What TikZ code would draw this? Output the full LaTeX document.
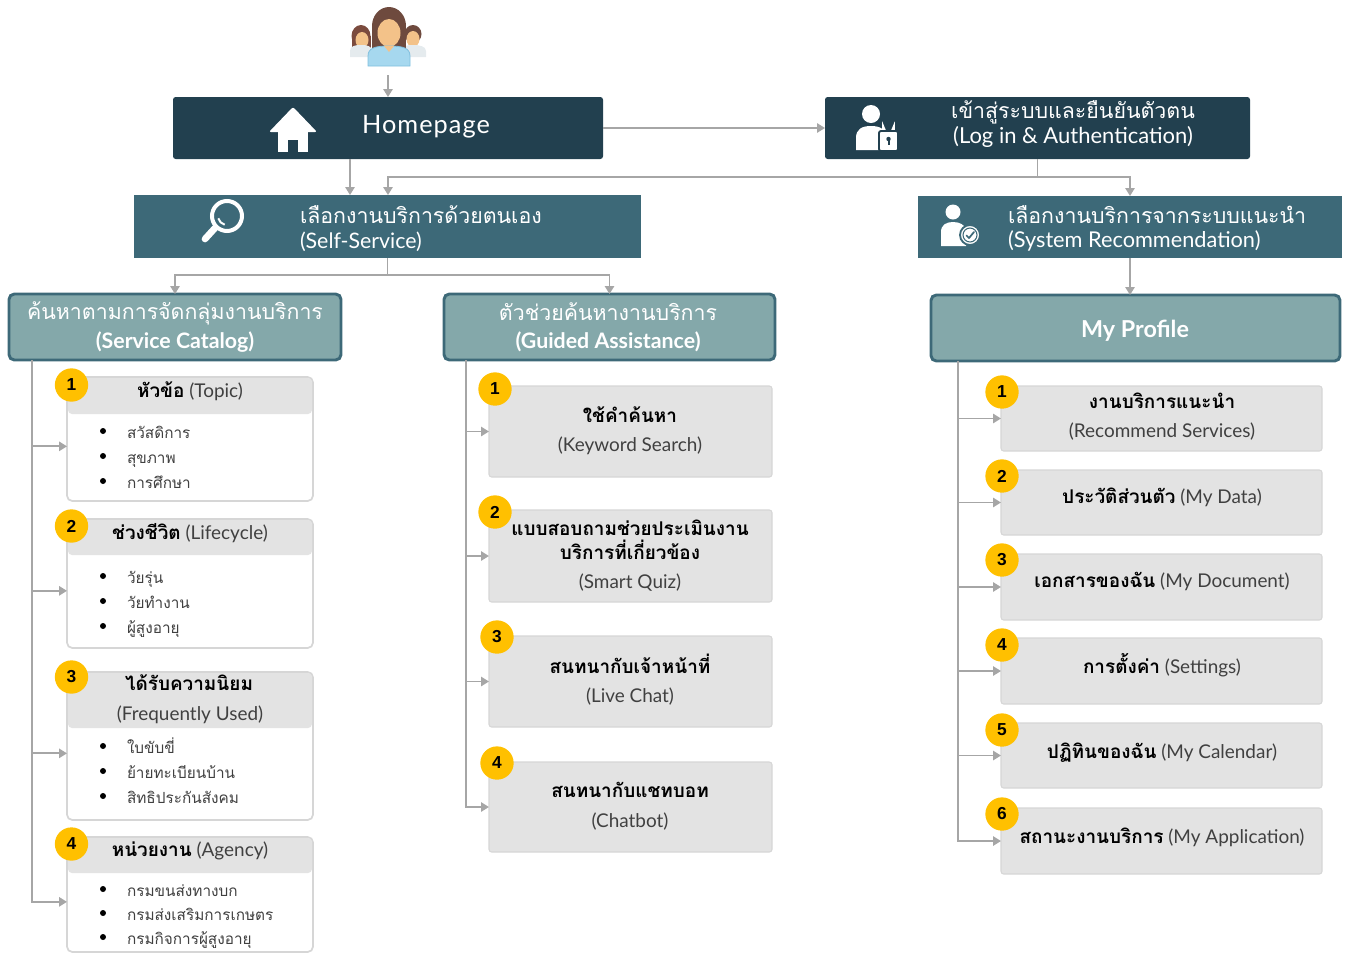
\documentclass[tikz,border=0pt]{standalone}
\usepackage{fontspec}
\setmainfont{Lato}
\newfontfamily\thf[Script=Thai]{Loma}
\newfontfamily\numf{Liberation Sans}
\usetikzlibrary{arrows.meta,fit,calc}

\definecolor{navy}{HTML}{22404F}
\definecolor{tealdk}{HTML}{3D6978}
\definecolor{lteal}{HTML}{84A8AA}
\definecolor{cardgray}{HTML}{E3E3E3}
\definecolor{edgegray}{HTML}{D6D6D6}
\definecolor{linkgray}{HTML}{A6A6A6}
\definecolor{badgeyellow}{HTML}{FFC000}
\definecolor{engtext}{HTML}{404040}
\definecolor{hair}{HTML}{6E4A3E}
\definecolor{hairdk}{HTML}{7B4B3E}
\definecolor{skin}{HTML}{F3C289}
\definecolor{shirt}{HTML}{A6D8EF}
\definecolor{shirtedge}{HTML}{7FBFDD}
\definecolor{pale}{HTML}{E5EBEE}

\begin{document}
\begin{tikzpicture}[x=0.75pt,y=-0.75pt,
  every node/.style={inner sep=0pt, outer sep=0pt},
  link/.style={draw=linkgray, line width=1.4pt},
  arr/.style={link, -{Triangle[length=6pt,width=7pt]}},
  navybox/.style={fill=navy, rounded corners=2pt},
  tealbox/.style={fill=tealdk},
  groupbox/.style={fill=lteal, draw=tealdk, line width=2.2pt, rounded corners=4pt},
  cardframe/.style={fill=white, draw=edgegray, line width=1.3pt, rounded corners=4pt},
  cardhead/.style={fill=cardgray, rounded corners=3pt},
  itembox/.style={fill=cardgray, draw=edgegray, line width=0.8pt, rounded corners=2pt},
  badge/.style={circle, fill=badgeyellow, minimum size=25pt,
    font=\numf\bfseries\fontsize{13}{13}\selectfont, text=black},
  whd/.style={anchor=base, text=white, font=\fontsize{16}{19}\selectfont},
  whdl/.style={whd, anchor=base west},
  ctitle/.style={anchor=base, text=black, font=\fontsize{14.2}{17}\selectfont},
  cthai/.style={ctitle, font=\thf\bfseries\fontsize{14.2}{17}\selectfont},
  itm/.style={anchor=base west, text=engtext, font=\thf\fontsize{11.5}{14}\selectfont},
  dot/.style={circle, fill=black, minimum size=4.5pt},
]
\useasboundingbox (0,0) rectangle (1351,954);

% ---------- user group figure ----------
\fill[hairdk] (361,36) ellipse [x radius=9.5, y radius=11];
\fill[hairdk] (351.5,36) rectangle (370.5,50);
\fill[skin] (362,40) ellipse [x radius=6.5, y radius=8];
\fill[pale] (350,57) -- (350,51) .. controls (350,46) and (355,45) .. (361,45)
  .. controls (367,45) and (372,46) .. (372,51) -- (372,57) -- cycle;
\fill[hair] (413,34) ellipse [x radius=8.5, y radius=9];
\fill[skin] (413,39) ellipse [x radius=6.5, y radius=8];
\fill[pale] (402,57) -- (402,51) .. controls (402,46) and (407,45) .. (413,45)
  .. controls (419,45) and (426,46) .. (426,51) -- (426,57) -- cycle;
\fill[hair] (389,26) ellipse [x radius=17, y radius=19];
\fill[hair] (372,26) rectangle (406,53);
\fill[skin] (389,33) ellipse [x radius=11.5, y radius=14];
\fill[skin] (385,42) rectangle (393,50);
\filldraw[fill=shirt, draw=shirtedge, line width=0.6pt]
  (368,66) -- (368,56) .. controls (368,48) and (375,46) .. (389,46)
  .. controls (403,46) and (410,48) .. (410,56) -- (410,66) -- cycle;
\fill[skin] (384,46) -- (389,52) -- (394,46) -- cycle;
\coordinate (crowd) at (388,75);

% ---------- top level boxes ----------
\node[navybox, fit={(173,97) (603,159)}] (home) {};
\node[navybox, fit={(825,97) (1250,159)}] (login) {};
\node[tealbox, fit={(134,195) (641,258)}] (self) {};
\node[tealbox, fit={(918,196) (1342,258)}] (sys) {};

% house symbol
\fill[white, rounded corners=1.5pt] (269,132) -- (293,107) -- (317,132) -- cycle;
\fill[white] (278,124) rectangle (308,152);
\fill[navy] (288,140) rectangle (298,153);
\node[whd, font=\fontsize{19}{22}\selectfont\addfontfeature{LetterSpace=4}] (home-t) at (426,133) {Homepage};

% user with padlock
\fill[white] (871,114) circle (9);
\fill[white] (856,150) -- (856,138) .. controls (856,129) and (862,126) .. (871,126)
  .. controls (880,126) and (886,129) .. (886,138) -- (886,150) -- cycle;
\draw[white, line width=2pt] (883.5,132) -- (883.5,128) arc[start angle=180, end angle=0, radius=5] -- (893.5,132);
\filldraw[fill=white, draw=navy, line width=1.4pt, rounded corners=1.5pt] (879,131) rectangle (898,151);
\fill[navy] (888.5,139) circle (2.2);
\fill[navy] (887.5,139) rectangle (889.5,145);
\node[whd, font=\thf\fontsize{16}{19}\selectfont] (login-th) at (1073,118) {เข้าสู่ระบบและยืนยันตัวตน};
\node[whd, font=\fontsize{16.5}{19}\selectfont] (login-en) at (1073,143) {(Log in \& Authentication)};

% magnifier
\draw[white, line width=3pt] (227,216) circle (15);
\draw[white, line width=5pt, line cap=round] (215,228) -- (205,239);
\draw[white, line width=1.5pt] (227,216) ++(105:9) arc[start angle=105, end angle=165, radius=9];
\node[whdl, font=\thf\fontsize{16}{19}\selectfont] (self-th) at (300,223) {เลือกงานบริการด้วยตนเอง};
\node[whdl] (self-en) at (300,248) {(Self-Service)};

% user with check mark
\fill[white] (953,212) circle (7.5);
\fill[white] (941,246) -- (941,232) .. controls (941,225) and (946,222) .. (953,222)
  .. controls (960,222) and (965,225) .. (966,230) -- (966,246) -- cycle;
\filldraw[fill=white, draw=tealdk, line width=1.4pt] (970,235) circle (10);
\draw[tealdk, line width=0.8pt] (970,235) circle (7);
\draw[tealdk, line width=1.3pt, line cap=round, line join=round] (966.5,235.5) -- (969,238) -- (974,232);
\node[whdl, font=\thf\fontsize{16}{19}\selectfont] (sys-th) at (1008,223) {เลือกงานบริการจากระบบแนะนำ};
\node[whdl, font=\fontsize{16.3}{19}\selectfont] (sys-en) at (1008,247) {(System Recommendation)};

% ---------- group boxes ----------
\node[groupbox, fit={(9,294) (341,360)}] (cat) {};
\node[groupbox, fit={(444,294) (775,360)}] (guide) {};
\node[groupbox, fit={(931,295) (1340,361)}] (profile) {};
\node[whd, font=\thf\fontsize{16}{19}\selectfont] (cat-th) at (175,319) {ค้นหาตามการจัดกลุ่มงานบริการ};
\node[whd, font=\bfseries\fontsize{16}{19}\selectfont] (cat-en) at (175,348) {(Service Catalog)};
\node[whd, font=\thf\fontsize{16}{19}\selectfont] (guide-th) at (608,320) {ตัวช่วยค้นหางานบริการ};
\node[whd, font=\bfseries\fontsize{16}{19}\selectfont] (guide-en) at (608,348) {(Guided Assistance)};
\node[whd, font=\bfseries\fontsize{17.5}{20}\selectfont] (profile-t) at (1135,337) {My Profile};

% ---------- connectors, top part ----------
\draw[arr] (crowd) -- (crowd |- home.north);
\draw[arr] (home.east) -- (login.west);
\draw[arr] (350,0 |- home.south) -- (350,0 |- self.north);
\coordinate (bus) at (login.south |- 0,177);
\draw[link] (login.south) -- (bus);
\draw[arr] (bus) -| (388,0 |- self.north);
\draw[arr] (bus) -| (sys.north);
\draw[arr] (sys.south) -- (sys.south |- profile.north);
\coordinate (sbus) at (self.south |- 0,275);
\draw[link] (self.south) -- (sbus);
\draw[arr] (sbus) -| (cat.north);
\draw[arr] (sbus) -| (guide.north);

% ---------- service catalog cards ----------
\node[cardframe, fit={(67,377) (313,501)}] (c1) {};
\node[cardhead, fit={(68,378) (312,414)}] (c1h) {};
\node[cardframe, fit={(67,519) (313,648)}] (c2) {};
\node[cardhead, fit={(68,520) (312,555)}] (c2h) {};
\node[cardframe, fit={(67,672) (313,820)}] (c3) {};
\node[cardhead, fit={(68,673) (312,728)}] (c3h) {};
\node[cardframe, fit={(67,837) (313,952)}] (c4) {};
\node[cardhead, fit={(68,838) (312,873)}] (c4h) {};

\node[ctitle] (c1-t) at (190,397) {{\thf\bfseries หัวข้อ}\ \textcolor{engtext}{(Topic)}};
\node[ctitle] (c2-t) at (190,539) {{\thf\bfseries ช่วงชีวิต}\ \textcolor{engtext}{(Lifecycle)}};
\node[cthai] (c3-t) at (189,690) {ได้รับความนิยม};
\node[ctitle, text=engtext] (c3-e) at (190,720) {(Frequently Used)};
\node[ctitle] (c4-t) at (190,856) {{\thf\bfseries หน่วยงาน}\ \textcolor{engtext}{(Agency)}};

\node[dot] (c1d1) at (103,431) {}; \node[itm] (c1i1) at (127,438) {สวัสดิการ};
\node[dot] (c1d2) at (103,456) {}; \node[itm] (c1i2) at (127,463) {สุขภาพ};
\node[dot] (c1d3) at (103,481) {}; \node[itm] (c1i3) at (127,488) {การศึกษา};
\node[dot] (c2d1) at (103,576) {}; \node[itm] (c2i1) at (127,583) {วัยรุ่น};
\node[dot] (c2d2) at (103,601) {}; \node[itm] (c2i2) at (127,608) {วัยทำงาน};
\node[dot] (c2d3) at (103,626) {}; \node[itm] (c2i3) at (127,633) {ผู้สูงอายุ};
\node[dot] (c3d1) at (103,746) {}; \node[itm] (c3i1) at (127,753) {ใบขับขี่};
\node[dot] (c3d2) at (103,771) {}; \node[itm] (c3i2) at (127,778) {ย้ายทะเบียนบ้าน};
\node[dot] (c3d3) at (103,796) {}; \node[itm] (c3i3) at (127,803) {สิทธิประกันสังคม};
\node[dot] (c4d1) at (103,889) {}; \node[itm] (c4i1) at (127,896) {กรมขนส่งทางบก};
\node[dot] (c4d2) at (103,913) {}; \node[itm] (c4i2) at (127,920) {กรมส่งเสริมการเกษตร};
\node[dot] (c4d3) at (103,937) {}; \node[itm] (c4i3) at (127,944) {กรมกิจการผู้สูงอายุ};

\node[badge] (c1b) at (71.5,385) {1};
\node[badge] (c2b) at (71.5,526) {2};
\node[badge] (c3b) at (71.5,677) {3};
\node[badge] (c4b) at (71.5,844) {4};

\coordinate (ls) at (cat.south -| 32,0);
\foreach \c in {c1,c2,c3} {
  \coordinate (\c-in) at ([yshift=-5.5pt]\c.west);
  \draw[arr] (ls |- \c-in) -- (\c-in);
}
\coordinate (c4-in) at ([yshift=-5.5pt]c4.west);
\draw[arr] (ls) |- (c4-in);

% ---------- guided assistance items ----------
\node[itembox, fit={(489,386) (772,477)}] (g1) {};
\node[itembox, fit={(489,510) (772,602)}] (g2) {};
\node[itembox, fit={(489,636) (772,727)}] (g3) {};
\node[itembox, fit={(489,762) (772,852)}] (g4) {};
\node[cthai] (g1-t) at (630,422) {ใช้คำค้นหา};
\node[ctitle, text=engtext] (g1-e) at (630,451) {(Keyword Search)};
\node[cthai] (g2-t) at (630,535) {แบบสอบถามช่วยประเมินงาน};
\node[cthai] (g2-t2) at (630,559) {บริการที่เกี่ยวข้อง};
\node[ctitle, text=engtext] (g2-e) at (630,588) {(Smart Quiz)};
\node[cthai] (g3-t) at (630,673) {สนทนากับเจ้าหน้าที่};
\node[ctitle, text=engtext] (g3-e) at (630,702) {(Live Chat)};
\node[cthai] (g4-t) at (630,797) {สนทนากับแชทบอท};
\node[ctitle, text=engtext] (g4-e) at (630,827) {(Chatbot)};
\node[badge] (g1b) at (495,389) {1};
\node[badge] (g2b) at (495,512) {2};
\node[badge] (g3b) at (497,637) {3};
\node[badge] (g4b) at (497,763) {4};

\coordinate (ms) at (guide.south -| 466,0);
\foreach \g in {g1,g2,g3} { \draw[arr] (ms |- \g.west) -- (\g.west); }
\draw[arr] (ms) |- (g4.west);

% ---------- my profile items ----------
\node[itembox, fit={(1001,386) (1322,451)}] (p1) {};
\node[itembox, fit={(1001,470) (1322,535)}] (p2) {};
\node[itembox, fit={(1001,554) (1322,620)}] (p3) {};
\node[itembox, fit={(1001,638) (1322,704)}] (p4) {};
\node[itembox, fit={(1001,723) (1322,788)}] (p5) {};
\node[itembox, fit={(1001,808) (1322,874)}] (p6) {};
\node[cthai] (p1-t) at (1162,408) {งานบริการแนะนำ};
\node[ctitle, text=engtext] (p1-e) at (1162,437) {(Recommend Services)};
\node[ctitle] (p2-t) at (1162,503) {{\thf\bfseries ประวัติส่วนตัว}\ \textcolor{engtext}{(My Data)}};
\node[ctitle] (p3-t) at (1162,587) {{\thf\bfseries เอกสารของฉัน}\ \textcolor{engtext}{(My Document)}};
\node[ctitle] (p4-t) at (1162,673) {{\thf\bfseries การตั้งค่า}\ \textcolor{engtext}{(Settings)}};
\node[ctitle] (p5-t) at (1162,758) {{\thf\bfseries ปฏิทินของฉัน}\ \textcolor{engtext}{(My Calendar)}};
\node[ctitle] (p6-t) at (1162,843) {{\thf\bfseries สถานะงานบริการ}\ \textcolor{engtext}{(My Application)}};
\node[badge] (p1b) at (1002,392) {1};
\node[badge] (p2b) at (1002,476) {2};
\node[badge] (p3b) at (1002,560) {3};
\node[badge] (p4b) at (1002,645) {4};
\node[badge] (p5b) at (1002,730) {5};
\node[badge] (p6b) at (1002,814) {6};

\coordinate (rs) at (profile.south -| 958,0);
\foreach \p in {p1,p2,p3,p4,p5} { \draw[arr] (rs |- \p.west) -- (\p.west); }
\draw[arr] (rs) |- (p6.west);

\end{tikzpicture}
\end{document}
